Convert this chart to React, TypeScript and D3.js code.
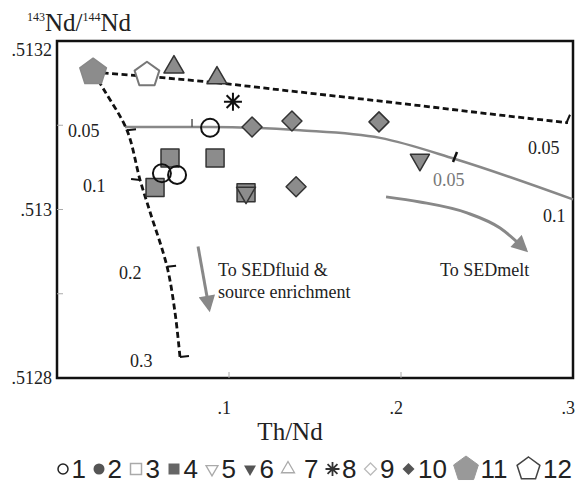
import * as d3 from "d3";
import React from "react";

// Th/Nd vs 143Nd/144Nd
const circles1 = [[0.089, 0.513097], [0.061, 0.513043], [0.0698, 0.513041]];
const squares4 = [[0.0657, 0.513061], [0.0919, 0.513061], [0.057, 0.513026], [0.1099, 0.51302]];
const triDown6 = [[0.211, 0.513059], [0.1099, 0.51302]];
const triUp7 = [[0.068, 0.513169], [0.093, 0.513156]];
const star8 = [[0.1023, 0.513128]];
const diamonds10 = [[0.1134, 0.513098], [0.1366, 0.513105], [0.1872, 0.513104], [0.139, 0.513027]];
const pent11 = [[0.021, 0.513163]];
const pent12 = [[0.0523, 0.51316]];

// model curves
const fluidMix = [[0.021, 0.513163], [0.0279, 0.51314], [0.0407, 0.513094], [0.0483, 0.513035], [0.0541, 0.512997], [0.064, 0.512932], [0.0686, 0.512878], [0.0715, 0.512825]];
const upperMix = [[0.021, 0.513163], [0.0523, 0.513158], [0.0948, 0.51315], [0.1297, 0.513142], [0.1994, 0.513126], [0.2576, 0.513112], [0.2971, 0.513103]];
const meltMix = [[0.0395, 0.513098], [0.089, 0.513098], [0.1413, 0.513094], [0.1878, 0.513085], [0.2314, 0.51306], [0.3, 0.513012]];
const meltArrow = [[0.1913, 0.513015], [0.211, 0.513009], [0.2384, 0.512996], [0.2576, 0.512978], [0.2725, 0.512952]];
const fluidArrow = [[0.082, 0.512956], [0.0885, 0.512882]];

const fluidTicks = [[0.0407, 0.513094, 1], [0.0483, 0.513035, -1], [0.064, 0.512932, 1], [0.0715, 0.512825, 1]];

const curveLabels = [
  { t: "0.05", x: 0.0064, y: 0.513094, c: "#222" },
  { t: "0.1", x: 0.0151, y: 0.513028, c: "#222" },
  { t: "0.2", x: 0.036, y: 0.512925, c: "#222" },
  { t: "0.3", x: 0.0424, y: 0.512821, c: "#222" },
  { t: "0.05", x: 0.2186, y: 0.513035, c: "#777" },
  { t: "0.05", x: 0.2738, y: 0.513073, c: "#222" },
  { t: "0.1", x: 0.2826, y: 0.512993, c: "#222" },
  { t: "To SEDmelt", x: 0.2227, y: 0.512928, c: "#222" },
  { t: "To SEDfluid &", x: 0.0936, y: 0.512928, c: "#222" },
  { t: "source enrichment", x: 0.0936, y: 0.512903, c: "#222" },
];

const xTicks = [0.1, 0.2, 0.3];
const xTickLabels = [".1", ".2", ".3"];
const yTicks = [0.5128, 0.513, 0.5132];
const yTickLabels = [".5128", ".513", ".5132"];
const yMinor = [0.5129, 0.5131];

const legendKeys = ["1", "2", "3", "4", "5", "6", "7", "8", "9", "10", "11", "12"];

const W = 576, H = 494;
const x = d3.scaleLinear().domain([0, 0.3]).range([57, 573]);
const y = d3.scaleLinear().domain([0.5128, 0.5132]).range([378, 41]);
const GRAY = "#8c8c8c";

function shape(kind: string, s: number) {
  if (kind === "square") return `M${-s / 2},${-s / 2}h${s}v${s}h${-s}Z`;
  if (kind === "diamond") return `M0,${-s}L${s},0L0,${s}L${-s},0Z`;
  if (kind === "up" || kind === "down") {
    const h = (s * Math.sqrt(3)) / 2;
    const k = kind === "up" ? 1 : -1;
    return `M0,${(-k * 2 * h) / 3}L${s / 2},${(k * h) / 3}L${-s / 2},${(k * h) / 3}Z`;
  }
  if (kind === "pent") {
    const pts = d3.range(5).map((i) => {
      const a = -Math.PI / 2 + (i * 2 * Math.PI) / 5;
      return [s * Math.cos(a), s * Math.sin(a)];
    });
    return "M" + pts.map((p) => p.join(",")).join("L") + "Z";
  }
  if (kind === "star") {
    return d3.range(4).map((i) => {
      const a = (i * Math.PI) / 4;
      return `M${-s * Math.cos(a)},${-s * Math.sin(a)}L${s * Math.cos(a)},${s * Math.sin(a)}`;
    }).join("");
  }
  return "";
}

const line = d3.line<number[]>().x((d) => x(d[0])).y((d) => y(d[1])).curve(d3.curveMonotoneX);

function Marks({ data, kind, size, fill, stroke, sw }: any) {
  return (
    <g>
      {data.map((d: number[], i: number) =>
        kind === "circle" ? (
          <circle key={i} cx={x(d[0])} cy={y(d[1])} r={size} fill={fill} stroke={stroke} strokeWidth={sw} />
        ) : (
          <path key={i} transform={`translate(${x(d[0])},${y(d[1])})`} d={shape(kind, size)} fill={fill} stroke={stroke} strokeWidth={sw} strokeLinejoin="round" />
        )
      )}
    </g>
  );
}

const legendSyms = [
  { kind: "circle", size: 5, fill: "none", stroke: "#222", sw: 1.5 },
  { kind: "circle", size: 5.5, fill: "#555", stroke: "none", sw: 0 },
  { kind: "square", size: 11, fill: "none", stroke: "#aaa", sw: 1.5 },
  { kind: "square", size: 11, fill: "#666", stroke: "none", sw: 0 },
  { kind: "down", size: 12, fill: "none", stroke: "#aaa", sw: 1.3 },
  { kind: "down", size: 12, fill: "#555", stroke: "none", sw: 0 },
  { kind: "up", size: 13, fill: "none", stroke: "#aaa", sw: 1.3 },
  { kind: "star", size: 7, fill: "none", stroke: "#333", sw: 1.8 },
  { kind: "diamond", size: 6, fill: "none", stroke: "#bbb", sw: 1.3 },
  { kind: "diamond", size: 6, fill: "#555", stroke: "none", sw: 0 },
  { kind: "pent", size: 13, fill: "#999", stroke: "#999", sw: 1 },
  { kind: "pent", size: 12, fill: "none", stroke: "#444", sw: 1.5 },
];

export default function App() {
  // sequential legend layout
  let cx = 57;
  const legendItems = legendKeys.map((k, i) => {
    const sym = legendSyms[i];
    const half = sym.kind === "pent" ? 12 : sym.kind === "circle" ? 6 : 7;
    const sx = cx + half;
    const tx = sx + half + (i === 6 ? 9 : 2.5);
    cx = tx + k.length * 14.5 + 7;
    return { k, sym, sx, tx };
  });

  const dash = "6,3.5";
  return (
    <svg width={W} height={H} style={{ position: "absolute", left: 0, top: 0, background: "#fff" }} fontFamily="'Liberation Serif', 'Times New Roman', serif">
      <defs>
        <marker id="ah" viewBox="0 0 10 10" refX="8" refY="5" markerWidth="6" markerHeight="5.5" orient="auto" markerUnits="strokeWidth">
          <path d="M0,0L10,5L0,10Z" fill="#888" />
        </marker>
      </defs>

      {/* frame */}
      <rect x={x(0)} y={y(0.5132)} width={x(0.3) - x(0)} height={y(0.5128) - y(0.5132)} fill="none" stroke="#111" strokeWidth={2.5} />
      {yMinor.concat([0.513]).map((t) => (
        <line key={t} x1={x(0)} x2={x(0) + 6} y1={y(t)} y2={y(t)} stroke="#aaa" strokeWidth={1} />
      ))}
      {xTicks.slice(0, 2).map((t) => (
        <line key={t} x1={x(t)} x2={x(t)} y1={y(0.5128)} y2={y(0.5128) - 6} stroke="#aaa" strokeWidth={1} />
      ))}

      {/* y labels */}
      {yTicks.map((t, i) => (
        <text key={t} x={52} y={i === 2 ? y(t) + 9 : y(t)} dy="0.35em" textAnchor="end" fontSize={18} fill="#222">{yTickLabels[i]}</text>
      ))}
      {xTicks.map((t, i) => (
        <text key={t} x={x(t) + 2} y={408} dy="0.35em" textAnchor="end" fontSize={18} fill="#222">{xTickLabels[i]}</text>
      ))}
      <text x={290} y={440} textAnchor="middle" fontSize={25} fill="#222">Th/Nd</text>
      <text x={27} y={31} fontSize={25} fill="#222">
        <tspan fontSize={12} dy={-10}>143</tspan>
        <tspan dy={10}>Nd/</tspan>
        <tspan fontSize={12} dy={-10}>144</tspan>
        <tspan dy={10}>Nd</tspan>
      </text>

      {/* model curves */}
      <path d={line(meltMix as any) || ""} fill="none" stroke="#888" strokeWidth={2.5} />
      <path d={line(upperMix as any) || ""} fill="none" stroke="#111" strokeWidth={2.8} strokeDasharray={dash} />
      <path d={d3.line<number[]>().x((d) => x(d[0])).y((d) => y(d[1])).curve(d3.curveCatmullRom)(fluidMix as any) || ""} fill="none" stroke="#111" strokeWidth={2.8} strokeDasharray={dash} />
      {fluidTicks.map((d, i) => (
        <line key={i} x1={x(d[0])} x2={x(d[0]) + d[2] * 9} y1={y(d[1])} y2={y(d[1]) - 1} stroke="#111" strokeWidth={2} />
      ))}
      <line x1={x(0.0785)} x2={x(0.0785)} y1={y(0.513098) - 8} y2={y(0.513098)} stroke="#555" strokeWidth={1.5} />
      <line x1={x(0.2314) - 2} x2={x(0.2314) + 2} y1={y(0.51306) + 3} y2={y(0.51306) - 7} stroke="#111" strokeWidth={2.5} />
      <line x1={x(0.2971) - 2} x2={x(0.2971) + 2} y1={y(0.513103) + 1} y2={y(0.513103) - 8} stroke="#111" strokeWidth={2} />
      <path d={line(meltArrow as any) || ""} fill="none" stroke="#888" strokeWidth={3} markerEnd="url(#ah)" />
      <path d={line(fluidArrow as any) || ""} fill="none" stroke="#888" strokeWidth={3} markerEnd="url(#ah)" />

      {curveLabels.map((l, i) => (
        <text key={i} x={x(l.x)} y={y(l.y)} dy="0.35em" fontSize={18} fill={l.c}>{l.t}</text>
      ))}

      {/* samples */}
      <Marks data={squares4} kind="square" size={18} fill={GRAY} stroke="#333" sw={1.5} />
      <Marks data={triDown6} kind="down" size={19} fill={GRAY} stroke="#333" sw={1.5} />
      <Marks data={circles1} kind="circle" size={9} fill="none" stroke="#111" sw={2} />
      <Marks data={diamonds10} kind="diamond" size={10} fill={GRAY} stroke="#333" sw={1.5} />
      <Marks data={triUp7} kind="up" size={20} fill={GRAY} stroke="#333" sw={1.5} />
      <Marks data={star8} kind="star" size={9} fill="none" stroke="#111" sw={2} />
      <Marks data={pent11} kind="pent" size={14} fill={GRAY} stroke="#888" sw={1.5} />
      <Marks data={pent12} kind="pent" size={13} fill="#fff" stroke="#777" sw={2} />

      {/* legend */}
      <g fontFamily="'Liberation Sans', Arial, sans-serif">
        {legendItems.map((it) => (
          <g key={it.k}>
            {it.sym.kind === "circle" ? (
              <circle cx={it.sx} cy={469} r={it.sym.size} fill={it.sym.fill} stroke={it.sym.stroke} strokeWidth={it.sym.sw} />
            ) : (
              <path transform={`translate(${it.sx},469)`} d={shape(it.sym.kind, it.sym.size)} fill={it.sym.fill} stroke={it.sym.stroke} strokeWidth={it.sym.sw} />
            )}
            <text x={it.tx} y={478} fontSize={26} fill="#222">{it.k}</text>
          </g>
        ))}
      </g>
    </svg>
  );
}
